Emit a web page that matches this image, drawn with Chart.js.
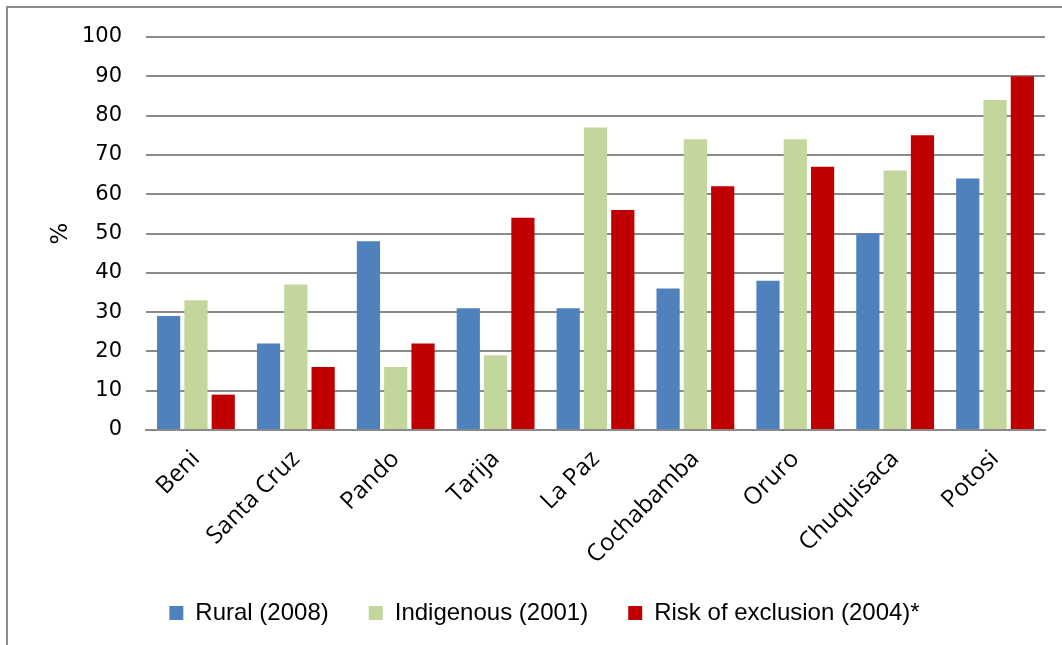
<!DOCTYPE html>
<html>
<head>
<meta charset="utf-8">
<script src="https://cdn.jsdelivr.net/npm/chart.js"></script>
<style>
  html, body { margin: 0; padding: 0; background: #fff; }
  #wrap { position: relative; width: 1062px; height: 645px; overflow: hidden; }
  #frame { position: absolute; left: 6px; top: 6px; width: 1100px; height: 700px;
           border: 2px solid #8c8c8c; box-sizing: border-box; }
  canvas { position: absolute; left: 0; top: 0; }
</style>
</head>
<body>
<div id="wrap">
  <div id="frame"></div>
  <canvas id="chart" width="1062" height="645"></canvas>
</div>
<script>
// Departments of Bolivia, left to right
const departments = ['Beni', 'Santa Cruz', 'Pando', 'Tarija', 'La Paz',
  'Cochabamba', 'Oruro', 'Chuquisaca', 'Potosi'];

// Percentages
const rural2008 = [29, 22, 48, 31, 31, 36, 38, 50, 64];
const indigenous2001 = [33, 37, 16, 19, 77, 74, 74, 66, 84];
const riskExclusion2004 = [9, 16, 22, 54, 56, 62, 67, 75, 90];

const seriesLabels = ['Rural (2008)', 'Indigenous (2001)', 'Risk of exclusion (2004)*'];
const yTicks = [0, 10, 20, 30, 40, 50, 60, 70, 80, 90, 100];

const colors = {
  blue: '#4f81bd',
  green: '#c3d69b',
  red: '#c00000',
  grid: '#8a8a8a'
};

const makeSet = (label, data, color) => ({
  label,
  data,
  backgroundColor: color,
  borderWidth: 0,
  categoryPercentage: 0.82,
  barPercentage: 0.85
});

new Chart(document.getElementById('chart'), {
  type: 'bar',
  data: {
    labels: departments,
    datasets: [
      makeSet(seriesLabels[0], rural2008, colors.blue),
      makeSet(seriesLabels[1], indigenous2001, colors.green),
      makeSet(seriesLabels[2], riskExclusion2004, colors.red)
    ]
  },
  options: {
    responsive: false,
    animation: false,
    // left padding only nudges the centred legend to the right
    layout: { padding: { left: 44, right: 17, top: 37, bottom: 10 } },
    plugins: {
      tooltip: { enabled: false },
      legend: {
        position: 'bottom',
        labels: {
          boxWidth: 14,
          boxHeight: 14,
          padding: 40,
          color: '#000',
          font: { family: "'Liberation Sans', sans-serif", size: 24 }
        }
      }
    },
    scales: {
      x: {
        grid: { display: false },
        border: { display: true, color: colors.grid, width: 2 },
        ticks: {
          color: '#000',
          maxRotation: 45,
          minRotation: 45,
          padding: 7,
          font: { family: "'Open Sans', sans-serif", size: 24 }
        },
        afterFit: (scale) => { scale.height = 131; }
      },
      y: {
        min: 0,
        max: 100,
        afterBuildTicks: (scale) => { scale.ticks = yTicks.map(v => ({ value: v })); },
        grid: { color: colors.grid, lineWidth: 2, drawTicks: false, tickLength: 0 },
        border: { display: false },
        title: {
          display: true,
          text: '%',
          color: '#000',
          padding: { top: 3, bottom: 0 },
          font: { family: "'DejaVu Sans', sans-serif", size: 23 }
        },
        ticks: {
          color: '#000',
          padding: 24,
          font: { family: "'DejaVu Sans', sans-serif", size: 21 }
        },
        afterFit: (scale) => { scale.width = 102; }
      }
    }
  }
});
</script>
</body>
</html>
